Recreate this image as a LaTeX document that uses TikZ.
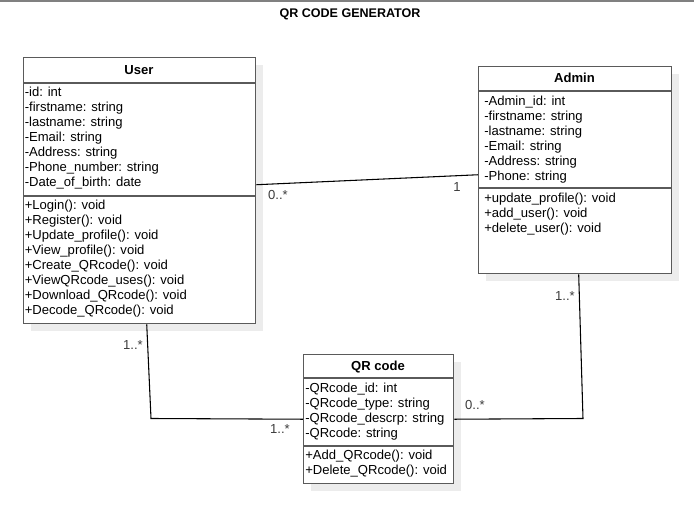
\documentclass[tikz,border=0pt]{standalone}
\usepackage{fontspec}
\setmainfont{Liberation Sans}
\usetikzlibrary{shadows,calc}
\definecolor{boxgray}{RGB}{90,90,90}
\definecolor{shadowgray}{RGB}{236,236,236}
\definecolor{multgray}{RGB}{60,60,60}
\definecolor{topgray}{RGB}{128,128,128}
\begin{document}
\begin{tikzpicture}[x=0.75pt,y=-0.75pt,
  classbox/.style={draw=boxgray, line width=1.1pt, fill=white, inner sep=0, anchor=north west,
    drop shadow={shadow xshift=5.25pt, shadow yshift=-5.25pt, fill=shadowgray, opacity=1}},
  ctitle/.style={font=\fontsize{9.8}{11}\selectfont\bfseries, inner sep=0},
  members/.style={font=\fontsize{9.8}{11.25}\selectfont, align=left, inner sep=0, anchor=base west},
  sep/.style={draw=boxgray, line width=1.1pt},
  assoc/.style={draw=black, line width=0.8pt},
  mult/.style={font=\fontsize{9.8}{11}\selectfont, text=multgray, inner sep=0}]
\useasboundingbox (0,0) rectangle (694,509);
\draw[draw=topgray, line width=1.5pt] (0,0.75) -- (694,0.75);
\node[inner sep=0, font=\fontsize{9.4}{11}\selectfont\bfseries] (title) at (350,14) {QR CODE GENERATOR};

% User
\node[classbox, minimum width=174pt, minimum height=199.5pt] (user) at (23,57) {};
\draw[sep] (user.west |- 0,83) -- (user.east |- 0,83);
\draw[sep] (user.west |- 0,196) -- (user.east |- 0,196);
\node[ctitle] (usertitle) at (139,70.5) {User};
\node[members] (userattr) at (24.5,187) {-id: int\\-firstname: string\\-lastname: string\\-Email: string\\-Address: string\\-Phone\_number: string\\-Date\_of\_birth: date};
\node[members] (usermeth) at (24.5,315) {+Login(): void\\+Register(): void\\+Update\_profile(): void\\+View\_profile(): void\\+Create\_QRcode(): void\\+ViewQRcode\_uses(): void\\+Download\_QRcode(): void\\+Decode\_QRcode(): void};

% Admin
\node[classbox, minimum width=144.75pt, minimum height=155.25pt] (admin) at (478,66) {};
\draw[sep] (admin.west |- 0,91) -- (admin.east |- 0,91);
\draw[sep] (admin.west |- 0,188) -- (admin.east |- 0,188);
\node[ctitle] (admintitle) at (574.5,78) {Admin};
\node[members] (adminattr) at (484,181) {-Admin\_id: int\\-firstname: string\\-lastname: string\\-Email: string\\-Address: string\\-Phone: string};
\node[members] (adminmeth) at (484,233) {+update\_profile(): void\\+add\_user(): void\\+delete\_user(): void};

% QR code
\node[classbox, minimum width=112.5pt, minimum height=96.75pt] (qr) at (303,354) {};
\draw[sep] (qr.west |- 0,378) -- (qr.east |- 0,378);
\draw[sep] (qr.west |- 0,446) -- (qr.east |- 0,446);
\node[ctitle] (qrtitle) at (378,367.5) {QR code};
\node[members] (qrattr) at (305,438) {-QRcode\_id: int\\-QRcode\_type: string\\-QRcode\_descrp: string\\-QRcode: string};
\node[members] (qrmeth) at (305,475) {+Add\_QRcode(): void\\+Delete\_QRcode(): void};

% connectors
\coordinate (c1) at (151,418.5);
\coordinate (c2) at (583,418.5);
\draw[assoc] ([yshift=4.5pt]user.east) -- ([yshift=-3.4pt]admin.west);
\draw[assoc] ([xshift=5.25pt]user.south) -- (c1) -- (qr.west);
\draw[assoc] ([xshift=2.6pt]admin.south) -- (c2) -- (qr.east);

% multiplicities
\node[mult] (m1) at (278,195) {0..*};
\node[mult] (m2) at (457,187) {1};
\node[mult] (m3) at (133,345) {1..*};
\node[mult] (m4) at (280,429) {1..*};
\node[mult] (m5) at (565,296) {1..*};
\node[mult] (m6) at (475,405) {0..*};
\end{tikzpicture}
\end{document}
